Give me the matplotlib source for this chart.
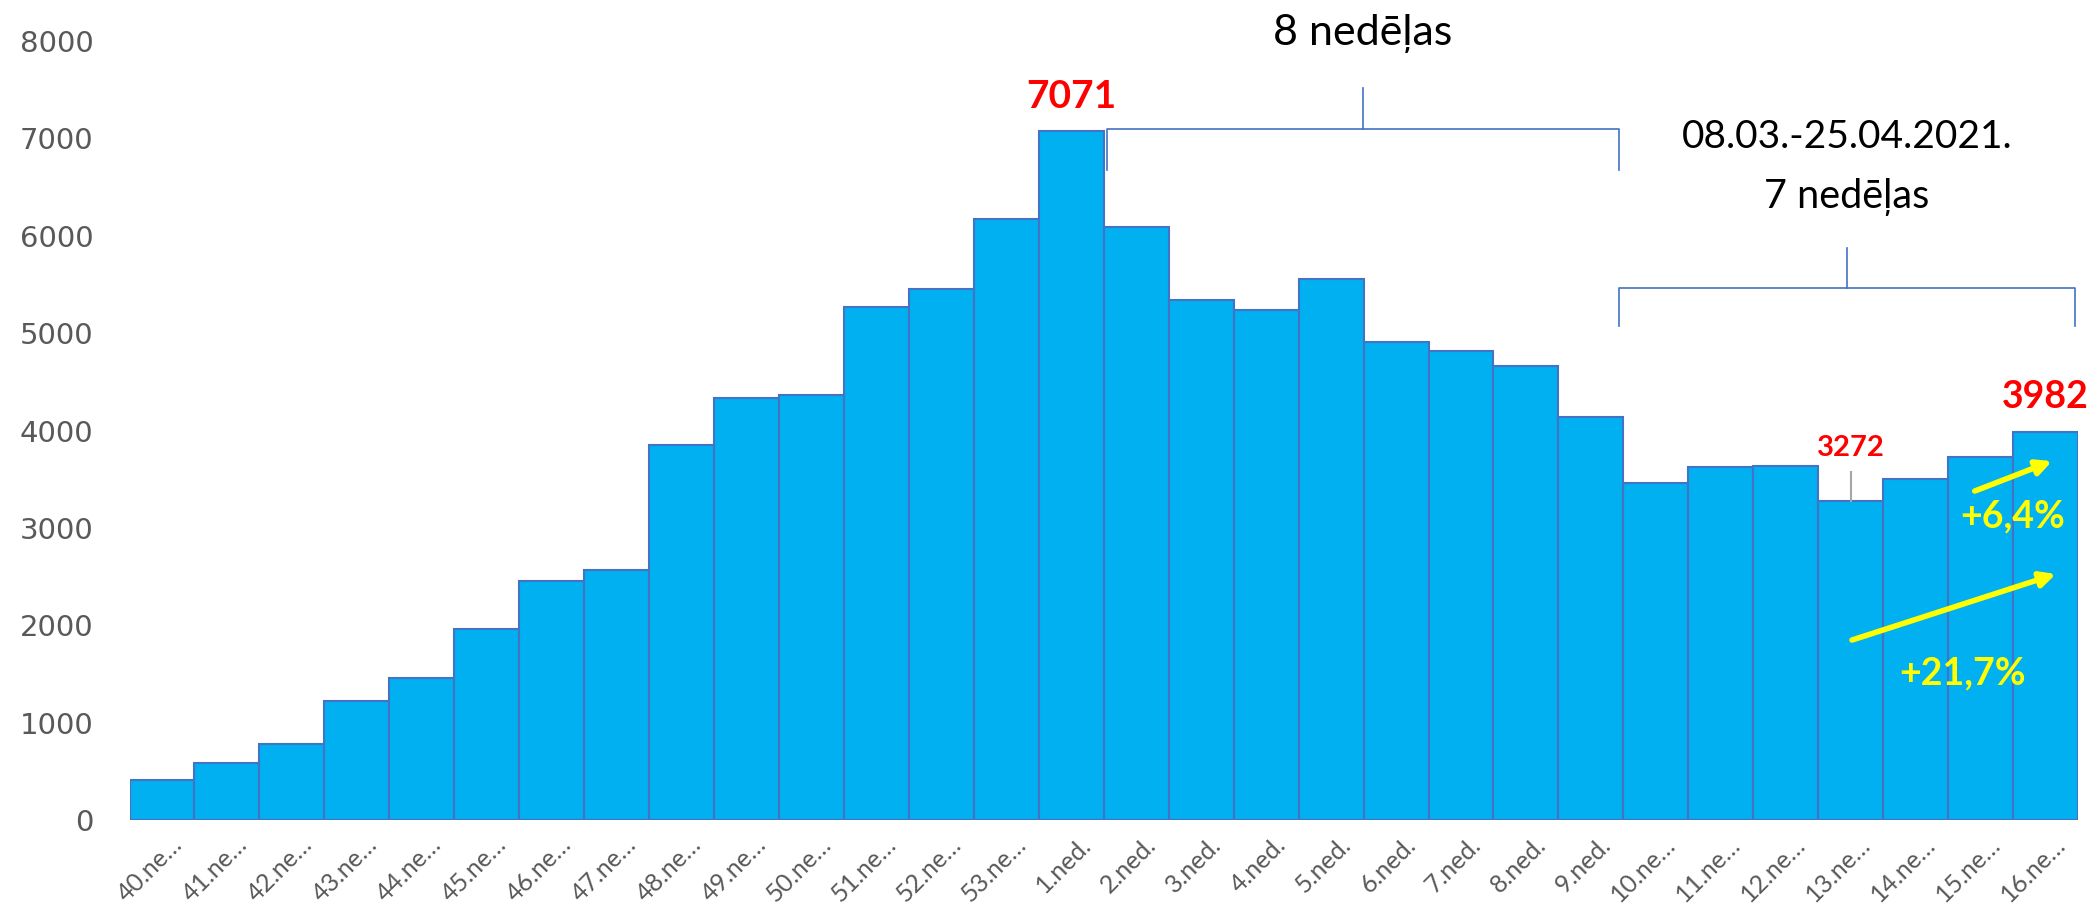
import matplotlib
matplotlib.use("Agg")
import matplotlib.pyplot as plt
import matplotlib.transforms as mtrans

categories = ["40.ne…", "41.ne…", "42.ne…", "43.ne…", "44.ne…", "45.ne…", "46.ne…",
              "47.ne…", "48.ne…", "49.ne…", "50.ne…", "51.ne…", "52.ne…", "53.ne…",
              "1.ned.", "2.ned.", "3.ned.", "4.ned.", "5.ned.", "6.ned.", "7.ned.",
              "8.ned.", "9.ned.", "10.ne…", "11.ne…", "12.ne…", "13.ne…", "14.ne…",
              "15.ne…", "16.ne…"]
values = [411, 582, 780, 1222, 1458, 1958, 2451, 2570, 3850, 4336, 4360, 5264, 5452, 6167,
          7071, 6092, 5339, 5233, 5558, 4904, 4815, 4665, 4141, 3457, 3627, 3634, 3272,
          3501, 3727, 3982]
yticks = [0, 1000, 2000, 3000, 4000, 5000, 6000, 7000, 8000]

FONT = ["Lato", "DejaVu Sans"]
BAR = "#00B0F0"
EDGE = "#4472C4"

fig = plt.figure(figsize=(20.9, 9.08), dpi=100)
ax = fig.add_axes([129.5 / 2090, 88 / 908, 1948.5 / 2090, 779 / 908])

x = list(range(len(values)))
ax.bar(x, values, width=1.0, color=BAR, edgecolor=EDGE, linewidth=1.5)
ax.set_xlim(-0.5, len(values) - 0.5)
ax.set_ylim(0, 8000)
for s in ax.spines.values():
    s.set_visible(False)
ax.set_yticks(yticks)
ax.set_yticklabels([str(v) for v in yticks], fontsize=21, color="#595959",
                   family="DejaVu Sans")
ax.tick_params(axis="y", length=0, pad=26)
ax.set_xticks(x)
ax.set_xticklabels(categories, rotation=45, ha="right", rotation_mode="anchor",
                   fontsize=18, color="#595959", family=FONT)
ax.tick_params(axis="x", length=0, pad=9)
offset = mtrans.ScaledTranslation(8 / 100, 0, fig.dpi_scale_trans)
for lab in ax.get_xticklabels():
    lab.set_transform(lab.get_transform() + offset)

# peak labels
ax.text(14.0, 7433, "7071", color="#FF0000", fontsize=28, fontweight="bold",
        ha="center", va="center", family=FONT, clip_on=False)
ax.text(28.99, 4343, "3982", color="#FF0000", fontsize=27, fontweight="bold",
        ha="center", va="center", family=FONT, clip_on=False)
ax.text(26.0, 3819, "3272", color="#FF0000", fontsize=21, fontweight="bold",
        ha="center", va="center", family=FONT)
ax.plot([26.0, 26.0], [3573, values[26]], color="#A6A6A6", lw=1.5)

# brackets
def bracket(x0, x1, yh, yb, yt):
    xm = (x0 + x1) / 2
    ax.plot([x0, x0, x1, x1], [yb, yh, yh, yb], color=EDGE, lw=1.2, clip_on=False)
    ax.plot([xm, xm], [yh, yt], color=EDGE, lw=1.2, clip_on=False)

bracket(14.55, 22.43, 7094, 6674, 7515)
bracket(22.43, 29.45, 5465, 5072, 5873)

ax.text(18.49, 8080, "8 nedēļas", fontsize=31, ha="center", va="center",
        family=FONT, color="black", clip_on=False)
ax.text(25.94, 7012, "08.03.-25.04.2021.", fontsize=28, ha="center", va="center",
        family=FONT, color="black")
ax.text(25.94, 6400, "7 nedēļas", fontsize=28.5, ha="center", va="center",
        family=FONT, color="black")

# yellow arrows
YEL = "#FFFF00"
ax.annotate("", xy=(29.10, 3686), xytext=(27.91, 3378),
            arrowprops=dict(arrowstyle="-|>,head_length=0.9,head_width=0.45",
                            color=YEL, lw=4, shrinkA=0, shrinkB=0))
ax.annotate("", xy=(29.16, 2526), xytext=(26.02, 1848),
            arrowprops=dict(arrowstyle="-|>,head_length=0.9,head_width=0.45",
                            color=YEL, lw=4, shrinkA=0, shrinkB=0))
ax.text(28.5, 3121, "+6,4%", color=YEL, fontsize=27, fontweight="bold",
        ha="center", va="center", family=FONT)
ax.text(27.73, 1509, "+21,7%", color=YEL, fontsize=27, fontweight="bold",
        ha="center", va="center", family=FONT)

fig.savefig("out.png", dpi=100)
